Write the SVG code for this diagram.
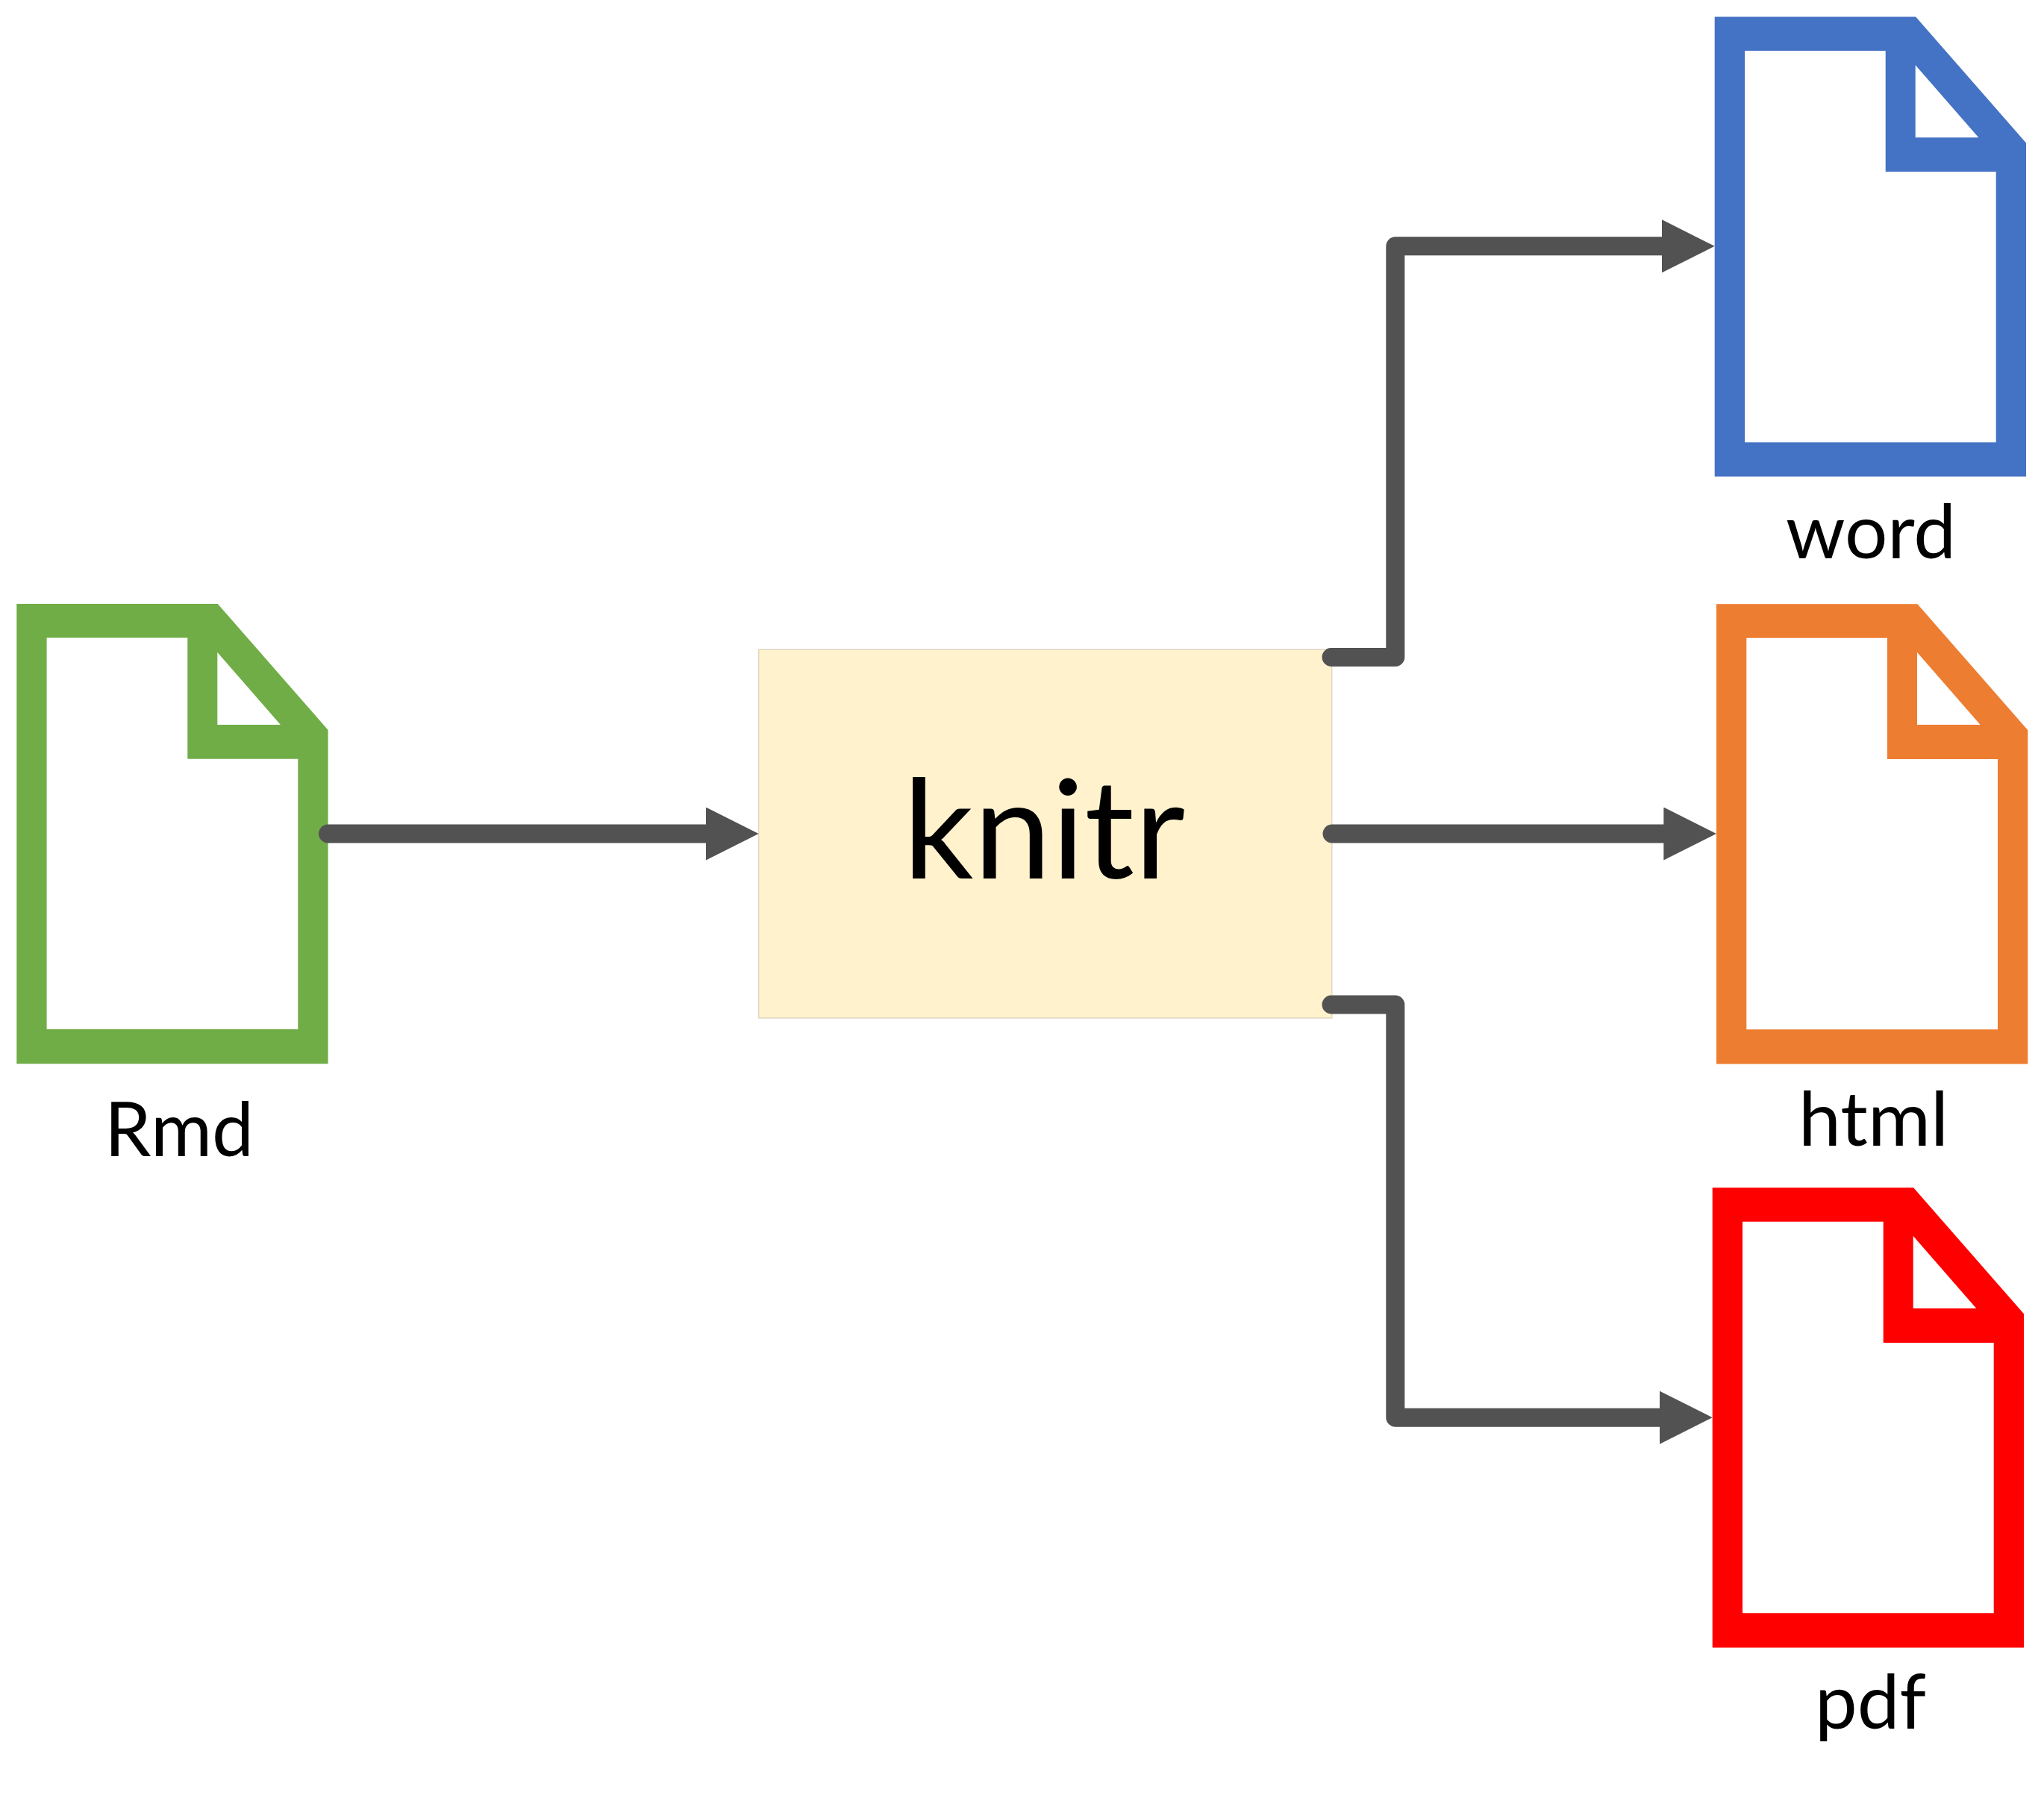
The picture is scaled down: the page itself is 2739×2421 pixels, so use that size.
<svg xmlns="http://www.w3.org/2000/svg" width="2739" height="2421" viewBox="0 0 2739 2421">
<style>
.doc{fill-rule:evenodd}
.label{font-family:"Lato","Carlito","Open Sans",sans-serif;font-size:100px;fill:#000}
.conn{fill:none;stroke:#525252;stroke-width:25;stroke-linecap:round;stroke-linejoin:round;marker-end:url(#arrow)}
</style>
<defs>
<marker id="arrow" markerUnits="userSpaceOnUse" markerWidth="71" markerHeight="71" viewBox="0 0 71 71" refX="0" refY="35.5" orient="auto"><path d="M0 0L70.7 35.5L0 71Z" fill="#525252"/></marker>
<path id="page" class="doc" d="M0 0H269.4L417.3 169V616.2H0ZM40.3 45.5V570H377V207.7H229V45.5ZM269 64.8V161.8H353.6Z"/>
</defs>
<rect width="2739" height="2421" fill="#fff"/>
<g id="node-rmd"><use href="#page" x="22.3" y="809.1" fill="#70AD47"/><text class="label" x="140" y="1549" textLength="200" lengthAdjust="spacingAndGlyphs">Rmd</text></g>
<g id="node-knitr"><rect x="1016.6" y="870.3" width="768.1" height="493.6" fill="#FFF2CC" stroke="#DDD8C4" stroke-width="1.5"/><text class="label" x="1210" y="1177" style="font-size:185px" textLength="378" lengthAdjust="spacingAndGlyphs">knitr</text></g>
<g id="node-word"><use href="#page" x="2297.7" y="22.4" fill="#4472C4"/><text class="label" x="2393" y="748" textLength="228" lengthAdjust="spacingAndGlyphs">word</text></g>
<g id="node-html"><use href="#page" x="2300" y="809.2" fill="#ED7D31"/><text class="label" x="2410" y="1535" textLength="201" lengthAdjust="spacingAndGlyphs">html</text></g>
<g id="node-pdf"><use href="#page" x="2294.7" y="1591.2" fill="#FF0000"/><text class="label" x="2432" y="2316.4" textLength="149" lengthAdjust="spacingAndGlyphs">pdf</text></g>
<g id="connectors">
<path class="conn" d="M439.5 1117H945.9"/>
<path class="conn" d="M1784 880.5H1869.8V329.8H2227"/>
<path class="conn" d="M1785 1117H2229.3"/>
<path class="conn" d="M1784 1346H1869.8V1899.2H2224"/>
</g>
</svg>
